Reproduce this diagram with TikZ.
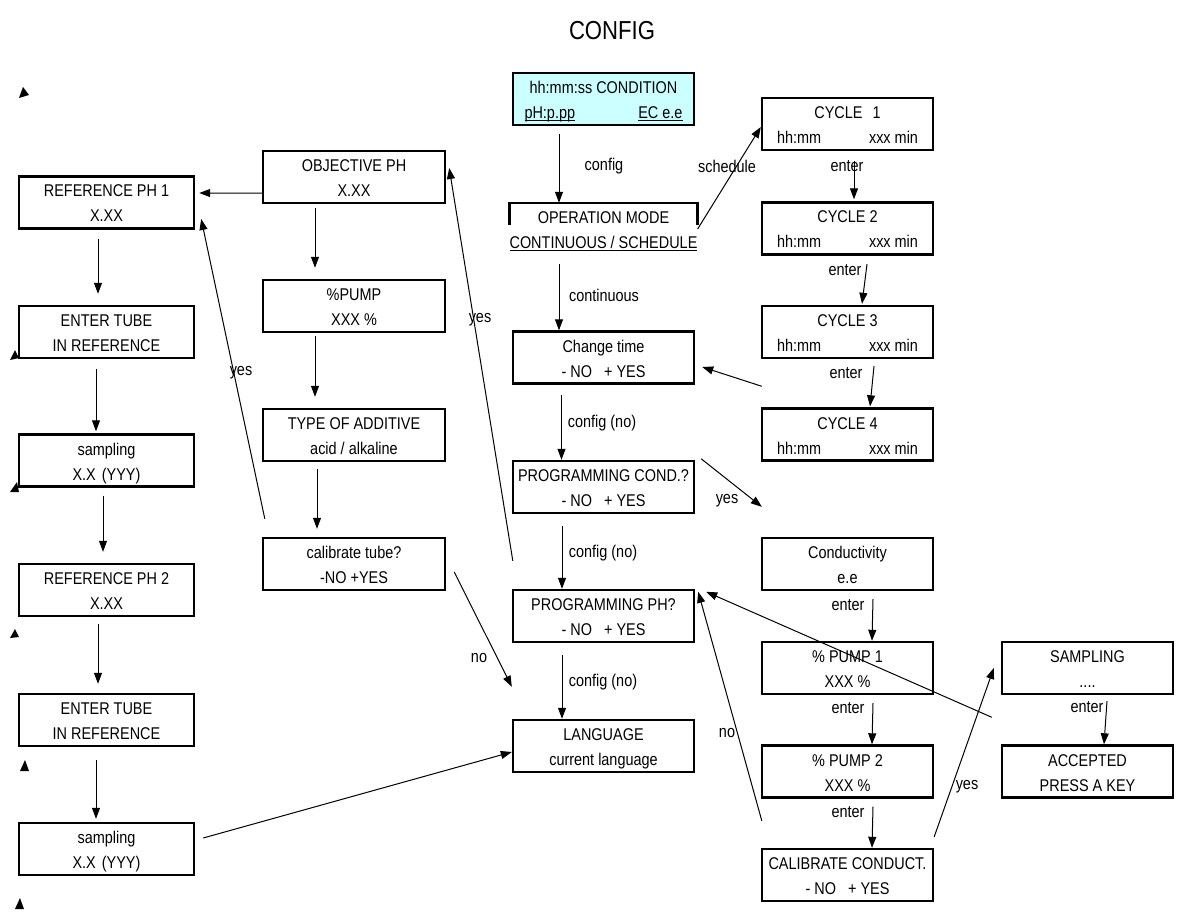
\documentclass[tikz,border=0pt]{standalone}
\usepackage{fontspec}
\setmainfont{Liberation Sans}[FakeStretch=0.85]
\usetikzlibrary{arrows.meta,calc}
\definecolor{lcyan}{HTML}{CCFFFF}
\newcommand\twoline[2]{\rule{0pt}{14pt}\smash{#1}\\\smash{#2}}
\newcommand\spreadl[3]{\makebox[#1]{#2\hfill #3}}
\begin{document}
\begin{tikzpicture}[x=1pt,y=-1pt,
  font=\fontsize{17}{25}\selectfont,
  lcd/.style={draw, line width=2.4pt, inner sep=0pt, minimum height=52pt, align=center},
  wl/.style={minimum width=175pt},
  wm/.style={minimum width=182pt},
  wc/.style={minimum width=181pt},
  wr/.style={minimum width=171pt},
  conn/.style={line width=1pt, -{Triangle[length=11pt,width=8pt]}},
  lbl/.style={inner sep=0pt}]
\useasboundingbox (0,0) rectangle (1184,912);

\node[font=\fontsize{26}{30}\selectfont] (title) at (612,31) {CONFIG};

% middle column
\node[lcd, wc, fill=lcyan] (cyan) at (603.5,99) {\twoline{hh:mm:ss CONDITION}{\spreadl{158pt}{\underline{\smash{pH:p.pp}}}{\underline{EC e.e}}}};
\node[inner sep=0pt, minimum height=52pt, wc, align=center] (opmode) at (603.5,229) {\twoline{OPERATION MODE}{\underline{CONTINUOUS / SCHEDULE}}};
\draw[line width=2.4pt] ($(opmode.north west)+(0,22)$) -- (opmode.north west) -- (opmode.north east) -- ++(0,22);
\node[lcd, wc] (change) at (603.5,357.5) {\twoline{Change time}{- NO\hspace{12pt}+ YES}};
\node[lcd, wc] (progcond) at (603.5,487) {\twoline{PROGRAMMING COND.?}{- NO\hspace{12pt}+ YES}};
\node[lcd, wc] (progph) at (603.5,616) {\twoline{PROGRAMMING PH?}{- NO\hspace{12pt}+ YES}};
\node[lcd, wc] (lang) at (603.5,746) {\twoline{LANGUAGE}{current language}};

% middle-left column
\node[lcd, wm] (obj) at (354,177) {\twoline{OBJECTIVE PH}{X.XX}};
\node[lcd, wm] (pump) at (354,306) {\twoline{\%PUMP}{XXX \%}};
\node[lcd, wm] (type) at (354,435) {\twoline{TYPE OF ADDITIVE}{acid / alkaline}};
\node[lcd, wm] (calib) at (354,564) {\twoline{calibrate tube?}{-NO +YES}};

% left column
\node[lcd, wl] (ref1) at (106.5,202.5) {\twoline{REFERENCE PH 1}{X.XX}};
\node[lcd, wl] (et1) at (106.5,332) {\twoline{ENTER TUBE}{IN REFERENCE}};
\node[lcd, wl] (s1) at (106.5,460.5) {\twoline{sampling}{X.X\hspace{6pt}(YYY)}};
\node[lcd, wl] (ref2) at (106.5,590) {\twoline{REFERENCE PH 2}{X.XX}};
\node[lcd, wl] (et2) at (106.5,720) {\twoline{ENTER TUBE}{IN REFERENCE}};
\node[lcd, wl] (s2) at (106.5,849) {\twoline{sampling}{X.X\hspace{6pt}(YYY)}};

% right column
\node[lcd, wr] (c1) at (847.5,124) {\twoline{CYCLE\hspace{10pt}1}{\spreadl{141pt}{hh:mm}{xxx min}}};
\node[lcd, wr] (c2) at (847.5,228.5) {\twoline{CYCLE 2}{\spreadl{141pt}{hh:mm}{xxx min}}};
\node[lcd, wr] (c3) at (847.5,332) {\twoline{CYCLE 3}{\spreadl{141pt}{hh:mm}{xxx min}}};
\node[lcd, wr] (c4) at (847.5,434.5) {\twoline{CYCLE 4}{\spreadl{141pt}{hh:mm}{xxx min}}};
\node[lcd, wr] (cond) at (847.5,564) {\twoline{Conductivity}{e.e}};
\node[lcd, wr] (p1) at (847.5,668) {\twoline{\% PUMP 1}{XXX \%}};
\node[lcd, wr] (p2) at (847.5,771.5) {\twoline{\% PUMP 2}{XXX \%}};
\node[lcd, wr] (calc) at (847.5,875) {\twoline{CALIBRATE CONDUCT.}{- NO\hspace{12pt}+ YES}};

% far right
\node[lcd, wr] (samp) at (1087.5,668) {\twoline{SAMPLING}{....}};
\node[lcd, wr] (acc) at (1087.5,771.5) {\twoline{ACCEPTED}{PRESS A KEY}};

% labels
\node[lbl] (l1) at (604,166) {config};
\node[lbl] (l2) at (727,166) {schedule};
\node[lbl] (l3) at (847,166) {enter};
\node[lbl] (l4) at (845,270) {enter};
\node[lbl] (l5) at (846,373) {enter};
\node[lbl] (l6) at (604,295) {continuous};
\node[lbl] (l7) at (602,423) {config (no)};
\node[lbl] (l8) at (603,553) {config (no)};
\node[lbl] (l9) at (603,682) {config (no)};
\node[lbl] (l10) at (727,501) {yes};
\node[lbl] (l11) at (480,320) {yes};
\node[lbl] (l12) at (241,373) {yes};
\node[lbl] (l13) at (479,658) {no};
\node[lbl] (l14) at (727,733) {no};
\node[lbl] (l15) at (967,787) {yes};
\node[lbl] (l16) at (848,605) {enter};
\node[lbl] (l17) at (848,708) {enter};
\node[lbl] (l18) at (848,812) {enter};
\node[lbl] (l19) at (1087,707) {enter};

% connectors
\draw[conn] ($(cyan.south)+(-44.5,8)$) -- ($(opmode.north)+(-44.5,0)$);
\draw[conn] (opmode.east) -- ($(c1.west)+(0,3)$);
\draw[conn] ($(c1.south)+(6.5,10)$) -- ($(c2.north)+(6.5,-2)$);
\draw[conn] ($(c2.south)+(19.5,8.5)$) -- ($(c3.north)+(14.5,-1)$);
\draw[conn] ($(c3.south)+(26.5,7)$) -- ($(c4.north)+(22.5,-1)$);
\draw[conn] ($(c4.north west)+(1,-21)$) -- ($(change.east)+(7,9.5)$);
\draw[conn] ($(opmode.south)+(-44.5,9)$) -- ($(change.north)+(-44.5,0)$);
\draw[conn] ($(change.south)+(-42,10)$) -- ($(progcond.north)+(-42,0)$);
\draw[conn] ($(progcond.south)+(-41.5,12)$) -- ($(progph.north)+(-41.5,0)$);
\draw[conn] ($(progcond.north east)+(6,-1)$) -- ($(cond.north west)+(1,-30)$);
\draw[conn] ($(progph.south)+(-41.5,12)$) -- ($(lang.north)+(-41.5,0)$);
\draw[conn] ($(cond.south)+(25.5,8)$) -- ($(p1.north)+(24.5,0)$);
\draw[conn] ($(p1.south)+(25.5,8)$) -- ($(p2.north)+(24.5,0)$);
\draw[conn] ($(p2.south)+(25.5,8)$) -- ($(calc.north)+(24.5,0)$);
\draw[conn] ($(samp.south)+(19.5,6)$) -- ($(acc.north)+(16.5,0)$);
\draw[conn] ($(acc.north west)+(-9,-27)$) -- ($(progph.north east)+(11,3)$);
\draw[conn] ($(calc.north east)+(0,-11)$) -- ($(samp.west)+(-7,0)$);
\draw[conn] ($(calc.north west)+(1,-27)$) -- ($(progph.north east)+(3,3)$);
\draw[conn] ($(progph.north west)+(1,-28)$) -- ($(obj.east)+(3,-9)$);
\draw[conn] ($(obj.south west)+(0,-11)$) -- ($(ref1.east)+(4,-9.5)$);
\draw[conn] ($(obj.south)+(-39,4)$) -- ($(pump.north)+(-39,-11)$);
\draw[conn] ($(pump.south)+(-39,3)$) -- ($(type.north)+(-39,-11)$);
\draw[conn] ($(type.south)+(-37,7)$) -- ($(calib.north)+(-37,-8)$);
\draw[conn] ($(calib.north west)+(3,-18)$) -- ($(ref1.east)+(6,16.5)$);
\draw[conn] ($(calib.east)+(8,8)$) -- ($(lang.north west)+(0,-32)$);
\draw[conn] ($(ref1.south)+(-8.5,9)$) -- ($(et1.north)+(-8.5,-11)$);
\draw[conn] ($(et1.south)+(-10.5,10)$) -- ($(s1.north)+(-10.5,-2)$);
\draw[conn] ($(s1.south)+(-3.5,8)$) -- ($(ref2.north)+(-3.5,-11)$);
\draw[conn] ($(ref2.south)+(-8.5,7)$) -- ($(et2.north)+(-8.5,-9)$);
\draw[conn] ($(et2.south)+(-10.5,13)$) -- ($(s2.north)+(-10.5,-3)$);
\draw[conn] ($(s2.east)+(8,-11)$) -- ($(lang.west)+(0,6)$);

% stray arrowheads at the left margin
\fill (19,98) -- (23,87) -- (29,95) -- cycle;
\fill (10,360) -- (15,350) -- (19,358) -- cycle;
\fill (10,492) -- (17,482) -- (19,492) -- cycle;
\fill (10,638) -- (15,629) -- (19,637) -- cycle;
\fill (20,771) -- (25,760) -- (29,771) -- cycle;
\fill (15,909) -- (20,898) -- (24,909) -- cycle;
\end{tikzpicture}
\end{document}
